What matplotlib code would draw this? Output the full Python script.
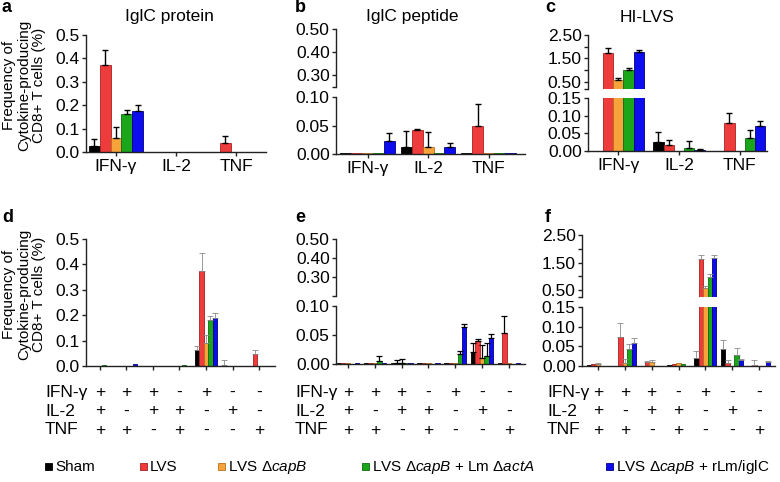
import numpy as np
import matplotlib
matplotlib.use('Agg')
import matplotlib.pyplot as plt
from matplotlib import font_manager, transforms
from matplotlib.patches import Rectangle

names = {f.name for f in font_manager.fontManager.ttflist}
narrow = 'Liberation Sans Narrow' if 'Liberation Sans Narrow' in names else 'Liberation Sans'

plt.rcParams['font.family'] = ['Liberation Sans', 'DejaVu Sans']
plt.rcParams['mathtext.fontset'] = 'custom'
plt.rcParams['mathtext.rm'] = narrow
plt.rcParams['mathtext.it'] = narrow + ':italic'

# ---- data ----
groups = ['Sham', 'LVS', 'LVS Δ$\\mathit{capB}$', 'LVS Δ$\\mathit{capB}$ + Lm Δ$\\mathit{actA}$',
          'LVS Δ$\\mathit{capB}$ + rLm/iglC']
colors = ['#000000', '#ee3b3b', '#f7a33c', '#1aa51a', '#0c0cef']
edges = ['#000000', '#a82020', '#b86e1c', '#0e6b0e', '#000080']

top_cats = ['IFN-γ', 'IL-2', 'TNF']
ifn_row = ['+', '+', '+', '-', '+', '-', '-']
il2_row = ['+', '-', '+', '+', '-', '+', '-']
tnf_row = ['+', '+', '-', '+', '-', '-', '+']

# rows = groups (Sham, LVS, dcapB, +Lm dactA, +rLm/iglC), cols = categories
a_mean = [[0.025, 0, 0], [0.37, 0, 0.04], [0.06, 0, 0], [0.163, 0, 0], [0.177, 0, 0]]
a_sem = [[0.03, 0, 0], [0.065, 0, 0.028], [0.048, 0, 0], [0.018, 0, 0], [0.023, 0, 0]]

b_mean = [[0.001, 0.013, 0.001], [0.001, 0.042, 0.05], [0.001, 0.013, 0.001],
          [0.001, 0.001, 0.001], [0.022, 0.013, 0.001]]
b_sem = [[0, 0.028, 0], [0, 0.001, 0.037], [0, 0.025, 0], [0, 0, 0], [0.014, 0.007, 0]]

c_mean = [[0, 0.025, 0], [1.75, 0.018, 0.078], [0.57, 0, 0], [1.0, 0.008, 0.036], [1.78, 0.003, 0.071]]
c_sem = [[0, 0.028, 0], [0.2, 0.012, 0.03], [0.08, 0, 0], [0.09, 0.02, 0.024], [0.08, 0.004, 0.014]]

d_mean = [[0.001, 0.001, 0, 0.001, 0.062, 0.002, 0],
          [0.001, 0, 0, 0, 0.374, 0, 0.047],
          [0.001, 0, 0, 0, 0.09, 0, 0],
          [0.003, 0, 0, 0.004, 0.181, 0, 0],
          [0, 0.006, 0, 0, 0.19, 0, 0]]
d_sem = [[0, 0, 0, 0, 0.018, 0.022, 0],
         [0, 0, 0, 0, 0.072, 0, 0.015],
         [0, 0, 0, 0, 0.032, 0, 0],
         [0, 0, 0, 0, 0.017, 0, 0],
         [0, 0, 0, 0, 0.018, 0, 0]]

e_mean = [[0.001, 0.001, 0.001, 0.001, 0.001, 0.02, 0.001],
          [0.001, 0.001, 0.002, 0.001, 0.001, 0.04, 0.053],
          [0.001, 0.001, 0.001, 0.001, 0.001, 0.011, 0.001],
          [0, 0.006, 0.001, 0, 0.018, 0.014, 0],
          [0.001, 0.001, 0.001, 0.001, 0.063, 0.044, 0.001]]
e_sem = [[0, 0, 0, 0, 0, 0.017, 0],
         [0, 0, 0.005, 0, 0, 0.003, 0.03],
         [0, 0, 0.007, 0, 0, 0.022, 0],
         [0, 0.008, 0, 0, 0.005, 0.022, 0],
         [0, 0, 0, 0, 0.006, 0.007, 0]]

f_mean = [[0.002, 0, 0, 0.003, 0.021, 0.042, 0],
          [0.004, 0.073, 0.01, 0.004, 1.64, 0.007, 0.003],
          [0.006, 0.007, 0.009, 0.007, 0.57, 0, 0],
          [0, 0.042, 0, 0.004, 0.97, 0.027, 0],
          [0, 0.058, 0, 0, 1.68, 0.016, 0.01]]
f_sem = [[0, 0, 0, 0, 0.017, 0.025, 0],
         [0, 0.036, 0.003, 0, 0.14, 0.009, 0.012],
         [0.002, 0.01, 0.007, 0, 0.08, 0, 0],
         [0, 0.013, 0, 0, 0.1, 0.02, 0],
         [0, 0.012, 0, 0, 0.09, 0.003, 0.003]]

# ---- layout ----
W, H = 780, 482
fig = plt.figure(figsize=(W / 100, H / 100), dpi=100)
FS = 12.5
SC = '#222222'


def add_ax(x0, x1, y0, y1):
    return fig.add_axes([x0 / W, 1 - y1 / H, (x1 - x0) / W, (y1 - y0) / H])


def style(ax, xlim, ylim, yt, yl, bottom=True, minor=None):
    ax.set_xlim(*xlim)
    ax.set_ylim(*ylim)
    ax.patch.set_alpha(0)
    ax.spines['top'].set_visible(False)
    ax.spines['right'].set_visible(False)
    for s in ['left', 'bottom']:
        ax.spines[s].set_color(SC)
        ax.spines[s].set_linewidth(1.0)
    ax.set_yticks(yt)
    ax.set_yticklabels(yl)
    if minor is not None:
        ax.set_yticks(minor, minor=True)
    ax.tick_params(axis='y', which='both', length=3, width=1, color=SC, labelsize=FS, pad=1.5)
    if not bottom:
        ax.spines['bottom'].set_visible(False)
        ax.tick_params(axis='x', bottom=False, labelbottom=False)
    else:
        ax.tick_params(axis='x', length=3, width=1, color=SC, labelsize=FS, pad=2)


def bars(axes, means, sems, width, ecol, elw):
    n = len(means[0])
    x = np.arange(n)
    for ax in axes:
        for g in range(5):
            xs = x + (g - 2) * width
            m = np.array(means[g], dtype=float)
            s = np.array(sems[g], dtype=float)
            ax.bar(xs, m, width, color=colors[g], edgecolor=edges[g], linewidth=0.6, zorder=2)
            k = s > 0
            if k.any():
                ax.errorbar(xs[k], m[k], yerr=[np.zeros(k.sum()), s[k]], fmt='none',
                            ecolor=ecol, elinewidth=elw, capsize=2, capthick=elw, zorder=3)


# panel a
ax = add_ax(86, 266, 35, 152)
bars([ax], a_mean, a_sem, 0.18, 'black', 1.0)
style(ax, (-0.5, 2.5), (0, 0.5), np.arange(0, 0.51, 0.1), ['0.0', '0.1', '0.2', '0.3', '0.4', '0.5'])
ax.set_xticks(range(3))
ax.set_xticklabels(top_cats)

# panel b (broken axis)
axl = add_ax(336, 525, 97, 154)
axu = add_ax(336, 525, 29, 87)
bars([axl, axu], b_mean, b_sem, 0.18, 'black', 1.0)
style(axl, (-0.52, 2.6), (0, 0.10), [0, 0.05, 0.10], ['0.00', '0.05', '0.10'])
style(axu, (-0.52, 2.6), (0.25, 0.50), [0.25, 0.3, 0.4, 0.5], ['', '0.30', '0.40', '0.50'], bottom=False)
axl.set_xticks(range(3))
axl.set_xticklabels(top_cats)

# panel c (broken axis)
axl = add_ax(588, 767, 98, 151)
axu = add_ax(588, 767, 35, 89)
bars([axl, axu], c_mean, c_sem, 0.17, 'black', 1.0)
style(axl, (-0.5, 2.45), (0, 0.15), [0, 0.05, 0.10, 0.15], ['0.00', '0.05', '0.10', '0.15'])
style(axu, (-0.5, 2.45), (0.2, 2.5), [0.2, 0.5, 1.5, 2.5], ['', '0.50', '1.50', '2.50'], bottom=False,
      minor=[1.0, 2.0])
axl.set_xticks(range(3))
axl.set_xticklabels(top_cats)

# bottom row
bottom_axes = []

ax = add_ax(86, 275, 239, 366)
bars([ax], d_mean, d_sem, 0.165, '#8a8a8a', 0.6)
style(ax, (-0.52, 6.6), (0, 0.5), np.arange(0, 0.51, 0.1), ['0.0', '0.1', '0.2', '0.3', '0.4', '0.5'])
ax.set_xticks(range(7))
ax.set_xticklabels([])
bottom_axes.append((ax, 45))

axl = add_ax(336, 525, 306, 364)
axu = add_ax(336, 525, 239, 296)
bars([axl, axu], e_mean, e_sem, 0.165, 'black', 0.9)
style(axl, (-0.45, 6.6), (0, 0.10), [0, 0.05, 0.10], ['0.00', '0.05', '0.10'])
style(axu, (-0.45, 6.6), (0.2, 0.50), [0.2, 0.3, 0.4, 0.5], ['', '0.30', '0.40', '0.50'], bottom=False)
axl.set_xticks(range(7))
axl.set_xticklabels([])
bottom_axes.append((axl, 295))

axl = add_ax(582, 775, 307, 366)
axu = add_ax(582, 775, 235, 297)
bars([axl, axu], f_mean, f_sem, 0.165, '#8a8a8a', 0.6)
style(axl, (-0.6, 6.6), (0, 0.15), [0, 0.05, 0.10, 0.15], ['0.00', '0.05', '0.10', '0.15'])
style(axu, (-0.6, 6.6), (0.25, 2.5), [0.25, 0.5, 1.5, 2.5], ['', '0.50', '1.50', '2.50'], bottom=False,
      minor=[1.0, 2.0])
axl.set_xticks(range(7))
axl.set_xticklabels([])
bottom_axes.append((axl, 547))

row_y = [392, 411, 430]
for ax, lx in bottom_axes:
    tr = transforms.blended_transform_factory(ax.transData, fig.transFigure)
    for name, row, y in zip(['IFN-γ', 'IL-2', 'TNF'], [ifn_row, il2_row, tnf_row], row_y):
        fig.text(lx / W, 1 - y / H, name, ha='left', va='center', fontsize=FS)
        for i, sgn in enumerate(row):
            ax.text(i, 1 - y / H, sgn, transform=tr, ha='center', va='center', fontsize=FS)

# titles, letters, y labels
for x, t in [(169, 'IglC protein'), (412, 'IglC peptide'), (647, 'HI-LVS')]:
    fig.text(x / W, 1 - 17 / H, t, ha='center', va='center', fontsize=FS)
for x, y, t in [(2, 8, 'a'), (295, 8, 'b'), (545, 8, 'c'), (2, 217, 'd'), (295, 218, 'e'), (545, 218, 'f')]:
    fig.text(x / W, 1 - y / H, t, ha='left', va='center', fontsize=13, fontweight='bold')
ylab = 'Frequency of\nCytokine-producing\nCD8+ T cells (%)'
for y in [85, 294]:
    fig.text(24 / W, 1 - y / H, ylab, rotation=90, ha='center', va='center', fontsize=11,
             linespacing=1.05, multialignment='center')

# legend
leg_x = [45, 140, 218, 362, 606]
for g, lx in enumerate(leg_x):
    fig.add_artist(Rectangle((lx / W, 1 - 470 / H), 7 / W, 7 / H, transform=fig.transFigure,
                             facecolor=colors[g], edgecolor=edges[g], linewidth=0.6))
    fig.text((lx + 10) / W, 1 - 467 / H, groups[g], ha='left', va='center', fontsize=11,
             family=[narrow, 'DejaVu Sans'])

fig.savefig('out.png', dpi=100)
